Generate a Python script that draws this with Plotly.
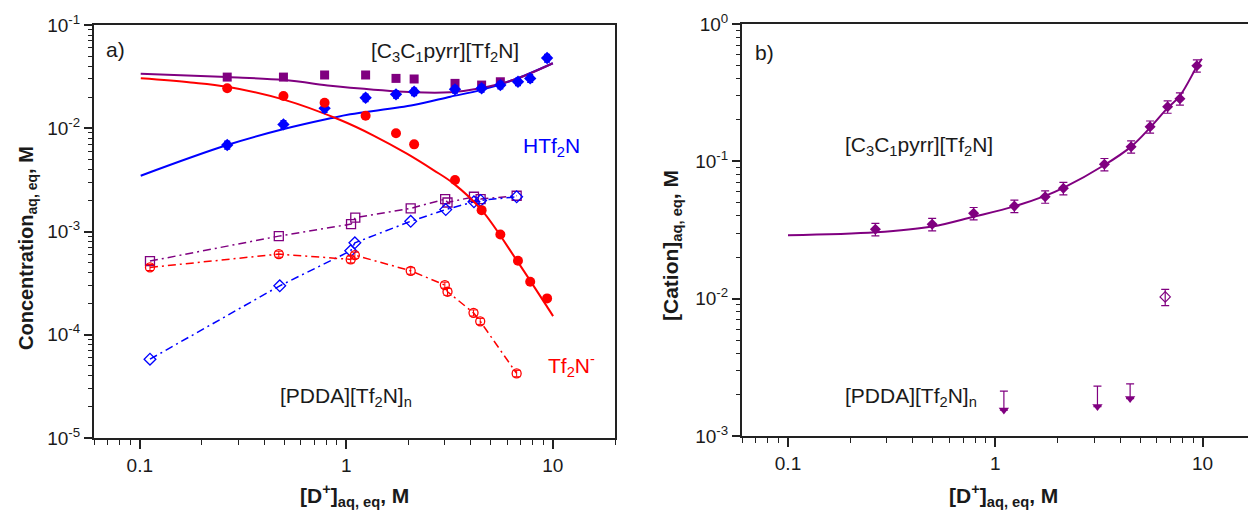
import math
import plotly.graph_objects as go

# page body has an 8px default margin; figure is sized/placed to compensate
OFF = 8
W, H = 1256 - OFF, 513 - OFF

# ---------------- Panel a) data ----------------
x_eq = [0.265, 0.496, 0.785, 1.24, 1.74, 2.13, 3.36, 4.52, 5.57, 6.78, 7.77, 9.38]

cation_x = [0.265, 0.496, 0.785, 1.24, 1.74, 2.13, 3.36, 4.52, 5.57]
cation_y = [0.0313, 0.0313, 0.0328, 0.0328, 0.0304, 0.0300, 0.0272, 0.0262, 0.0282]

htf2n_y = [0.00688, 0.0109, 0.0156, 0.01975, 0.0213, 0.0226, 0.0238, 0.0244, 0.0262, 0.0282, 0.0304, 0.0479]
htf2n_err = [0.0006, 0.0009, 0.0013, 0.0016, 0.0017, 0.0018, 0.0019, 0.0020, 0.0021, 0.0023, 0.0025, 0.0040]

tf2n_y = [0.0244, 0.0205, 0.01766, 0.0132, 0.00893, 0.00698, 0.00315, 0.00161, 0.000937, 0.00052, 0.000326, 0.000225]

# fitted curves
fit_x = [0.101, 0.265, 0.498, 0.837, 1.044, 2.12, 3.19, 4.46, 6.42, 10.0]
fit_cation = [0.0337, 0.0313, 0.0293, 0.0258, 0.0247, 0.0223, 0.0223, 0.0244, 0.0293, 0.0426]
fit_htf2n = [0.00347, 0.00688, 0.00982, 0.01247, 0.01365, 0.0168, 0.0202, 0.0234, 0.0293, 0.0426]

fit_tf2n_x = [0.1011, 0.1764, 0.265, 0.4982, 0.9355, 1.355, 1.964, 2.641, 3.299, 4.524, 6.677, 9.49, 10.03]
fit_tf2n_y = [0.03044, 0.02779, 0.02524, 0.01893, 0.01201, 0.00850, 0.005675, 0.003936, 0.002924,
              0.001612, 0.000528, 0.000180, 0.0001515]

# [PDDA][Tf2N]n series
pdda_cat_x = [0.112, 0.471, 1.054, 1.105, 2.05, 3.01, 3.09, 4.15, 4.47, 6.68]
pdda_cat_y = [0.000517, 0.000902, 0.00118, 0.00136, 0.001675, 0.00206, 0.00191, 0.00217, 0.00206, 0.00222]

pdda_h_x = [0.112, 0.476, 1.05, 1.10, 2.05, 3.03, 4.15, 4.47, 6.68]
pdda_h_y = [5.80e-5, 0.000298, 0.000650, 0.000777, 0.001256, 0.00163, 0.00194, 0.00200, 0.00217]

pdda_a_x = [0.112, 0.471, 1.05, 1.10, 2.05, 3.00, 3.09, 4.13, 4.45, 6.68]
pdda_a_y = [0.000449, 0.000604, 0.000537, 0.00059, 0.000416, 0.000303, 0.000261, 0.000163, 0.000135, 4.22e-5]
pdda_a_err = [0.00003, 0.00004, 0.00004, 0.00004, 0.00003, 0.00002, 0.00002, 0.000011, 0.000009, 0.000003]

# ---------------- Panel b) data ----------------
b_x = [0.264, 0.496, 0.786, 1.236, 1.74, 2.13, 3.36, 4.52, 5.58, 6.78, 7.77, 9.38]
b_y = [0.0320, 0.0348, 0.0418, 0.0472, 0.0552, 0.0636, 0.0951, 0.1277, 0.1787, 0.250, 0.2857, 0.497]
b_err = [0.0033, 0.0036, 0.0043, 0.0049, 0.0057, 0.0066, 0.0098, 0.013, 0.018, 0.026, 0.029, 0.051]

b_fit_x = [0.1, 0.265, 0.496, 0.786, 1.236, 1.74, 2.13, 3.36, 4.52, 5.58, 6.78, 7.77, 9.38, 9.92]
b_fit_y = [0.0289, 0.0304, 0.0335, 0.0395, 0.047, 0.056, 0.064, 0.094, 0.128, 0.176, 0.245, 0.30, 0.49, 0.559]

b_open_x = [6.6]
b_open_y = [0.0103]
b_open_err = [0.0014]

b_lim_x = [1.10, 3.11, 4.47]
b_lim_head = [0.001545, 0.001637, 0.001873]
b_lim_up = [0.00058, 0.00067, 0.00052]

PURPLE = "#800080"
BLUE = "#0000FF"
RED = "#FF0000"
AX = "#222222"
FONT = "Liberation Sans, Arial, sans-serif"
DASHDOT = "8px,4px,2px,4px"

fig = go.Figure()

# ---- panel a: PDDA dash-dot series ----
fig.add_trace(go.Scatter(x=pdda_cat_x, y=pdda_cat_y, mode="lines+markers",
                         line=dict(color=PURPLE, width=1.5, dash=DASHDOT),
                         marker=dict(symbol="square-open", size=9, color=PURPLE, line=dict(width=1.3)),
                         xaxis="x", yaxis="y", showlegend=False))
fig.add_trace(go.Scatter(x=pdda_h_x, y=pdda_h_y, mode="lines+markers",
                         line=dict(color=BLUE, width=1.5, dash=DASHDOT),
                         marker=dict(symbol="diamond-open", size=9, color=BLUE, line=dict(width=1.3)),
                         xaxis="x", yaxis="y", showlegend=False))
fig.add_trace(go.Scatter(x=pdda_a_x, y=pdda_a_y, mode="lines+markers",
                         line=dict(color=RED, width=1.5, dash=DASHDOT),
                         marker=dict(symbol="circle-open", size=9, color=RED, line=dict(width=1.3)),
                         error_y=dict(type="data", array=pdda_a_err, color=RED, thickness=1, width=4),
                         xaxis="x", yaxis="y", showlegend=False))

# ---- panel a: fits ----
fig.add_trace(go.Scatter(x=fit_x, y=fit_htf2n, mode="lines", line=dict(color=BLUE, width=2, shape="spline"),
                         xaxis="x", yaxis="y", showlegend=False))
fig.add_trace(go.Scatter(x=fit_tf2n_x, y=fit_tf2n_y, mode="lines", line=dict(color=RED, width=2, shape="spline"),
                         xaxis="x", yaxis="y", showlegend=False))
fig.add_trace(go.Scatter(x=fit_x, y=fit_cation, mode="lines", line=dict(color=PURPLE, width=2, shape="spline"),
                         xaxis="x", yaxis="y", showlegend=False))

# ---- panel a: filled markers ----
fig.add_trace(go.Scatter(x=cation_x, y=cation_y, mode="markers",
                         marker=dict(symbol="square", size=9, color=PURPLE),
                         xaxis="x", yaxis="y", showlegend=False))
fig.add_trace(go.Scatter(x=x_eq, y=htf2n_y, mode="markers",
                         marker=dict(symbol="diamond", size=9.5, color=BLUE),
                         error_y=dict(type="data", array=htf2n_err, color=BLUE, thickness=1.5, width=3),
                         xaxis="x", yaxis="y", showlegend=False))
fig.add_trace(go.Scatter(x=x_eq, y=tf2n_y, mode="markers",
                         marker=dict(symbol="circle", size=10, color=RED),
                         xaxis="x", yaxis="y", showlegend=False))

# ---- panel b ----
fig.add_trace(go.Scatter(x=b_fit_x, y=b_fit_y, mode="lines", line=dict(color=PURPLE, width=2, shape="spline"),
                         xaxis="x2", yaxis="y2", showlegend=False))
fig.add_trace(go.Scatter(x=b_x, y=b_y, mode="markers",
                         marker=dict(symbol="diamond", size=8.5, color=PURPLE),
                         error_y=dict(type="data", array=b_err, color=PURPLE, thickness=1.2, width=4),
                         xaxis="x2", yaxis="y2", showlegend=False))
fig.add_trace(go.Scatter(x=b_open_x, y=b_open_y, mode="markers",
                         marker=dict(symbol="diamond-open", size=8, color=PURPLE, line=dict(width=1.2)),
                         error_y=dict(type="data", array=b_open_err, color=PURPLE, thickness=1.2, width=4),
                         xaxis="x2", yaxis="y2", showlegend=False))
fig.add_trace(go.Scatter(x=b_lim_x, y=b_lim_head, mode="markers",
                         marker=dict(symbol="triangle-down", size=9, color=PURPLE),
                         error_y=dict(type="data", symmetric=False, array=b_lim_up,
                                      arrayminus=[0, 0, 0], color=PURPLE, thickness=1.2, width=4),
                         xaxis="x2", yaxis="y2", showlegend=False))

# ---------------- axes ----------------
def minor_vals(decades):
    vals = []
    for d in decades:
        for m in range(2, 10):
            vals.append(m * 10 ** d)
    return vals

x_minor_a = [0.06, 0.07, 0.08, 0.09] + minor_vals([-1, 0]) + [20]
x_minor_b = [0.06, 0.07, 0.08, 0.09] + minor_vals([-1, 0])

tickfont = dict(family=FONT, size=19, color="#1a1a1a")

def xaxis_cfg(domain, rng, minor_v, anchor):
    return dict(type="log", domain=domain, range=rng, anchor=anchor, automargin=False,
                showgrid=False, zeroline=False,
                showline=True, linecolor=AX, linewidth=2, mirror=True,
                ticks="outside", ticklen=9, tickwidth=1.5, tickcolor=AX,
                tickvals=[0.1, 1, 10], ticktext=["0.1", "1", "10"], tickfont=tickfont,
                minor=dict(tickmode="array", tickvals=minor_v, ticks="outside", ticklen=5,
                           tickwidth=1.2, tickcolor=AX, showgrid=False))

def yaxis_cfg(domain, exps, anchor, mirror):
    major = [10.0 ** e for e in exps]
    text = ["10<sup>%d</sup>" % e for e in exps]
    return dict(type="log", domain=domain, range=[exps[0], exps[-1]], anchor=anchor, automargin=False,
                showgrid=False, zeroline=False, showline=True, linecolor=AX, linewidth=2,
                mirror=mirror, ticks="outside", ticklen=8, tickwidth=1.5, tickcolor=AX,
                tickvals=major, ticktext=text, tickfont=tickfont,
                minor=dict(tickmode="array", tickvals=minor_vals(exps[:-1]), ticks="outside",
                           ticklen=4, tickwidth=1.2, tickcolor=AX, showgrid=False))

def fx(px):
    return (px - OFF) / W

def fy(py):
    return 1 - (py - OFF) / H

xa_dom = [fx(94), fx(615)]
xb_dom = [fx(742), 1.0]
ya_dom = [fy(438), fy(25)]
yb_dom = [fy(436), fy(24)]

fig.update_layout(
    width=W, height=H,
    margin=dict(l=0, r=0, t=0, b=0, autoexpand=False),
    paper_bgcolor="white", plot_bgcolor="white",
    font=dict(family=FONT, color="#1a1a1a"),
    xaxis=xaxis_cfg(xa_dom, [math.log10(0.06), math.log10(20)], x_minor_a, "y"),
    yaxis=yaxis_cfg(ya_dom, [-5, -4, -3, -2, -1], "x", True),
    xaxis2=xaxis_cfg(xb_dom, [math.log10(0.06), 1.2575], x_minor_b, "y2"),
    yaxis2=yaxis_cfg(yb_dom, [-3, -2, -1, 0], "x2", False),
)

def ann(text, px, py, size=21, bold=False, color="#1a1a1a", angle=0, xanchor="left"):
    if bold:
        text = "<b>" + text + "</b>"
    fig.add_annotation(text=text, xref="paper", yref="paper", x=fx(px), y=fy(py),
                       xanchor=xanchor, yanchor="middle", showarrow=False, textangle=angle,
                       font=dict(family=FONT, size=size, color=color))

# panel a texts
ann("a)", 104, 50)
ann("[C<sub>3</sub>C<sub>1</sub>pyrr][Tf<sub>2</sub>N]", 369, 52)
ann("HTf<sub>2</sub>N", 521, 147, color=BLUE)
ann("Tf<sub>2</sub>N<sup>-</sup>", 546, 365, color=RED)
ann("[PDDA][Tf<sub>2</sub>N]<sub>n</sub>", 278, 397)
# panel b texts
ann("b)", 753, 53)
ann("[C<sub>3</sub>C<sub>1</sub>pyrr][Tf<sub>2</sub>N]", 843, 146)
ann("[PDDA][Tf<sub>2</sub>N]<sub>n</sub>", 843, 397)

# axis titles
ann("[D<sup>+</sup>]<sub>aq, eq</sub>, M", 354, 495, bold=True, xanchor="center")
ann("[D<sup>+</sup>]<sub>aq, eq</sub>, M", 1003, 495, bold=True, xanchor="center")
ann("Concentration<sub>aq, eq</sub>, M", 27, 248, size=20, bold=True, angle=-90, xanchor="center")
ann("[Cation]<sub>aq, eq</sub>, M", 672, 246, bold=True, angle=-90, xanchor="center")

fig.write_html("out.html")
